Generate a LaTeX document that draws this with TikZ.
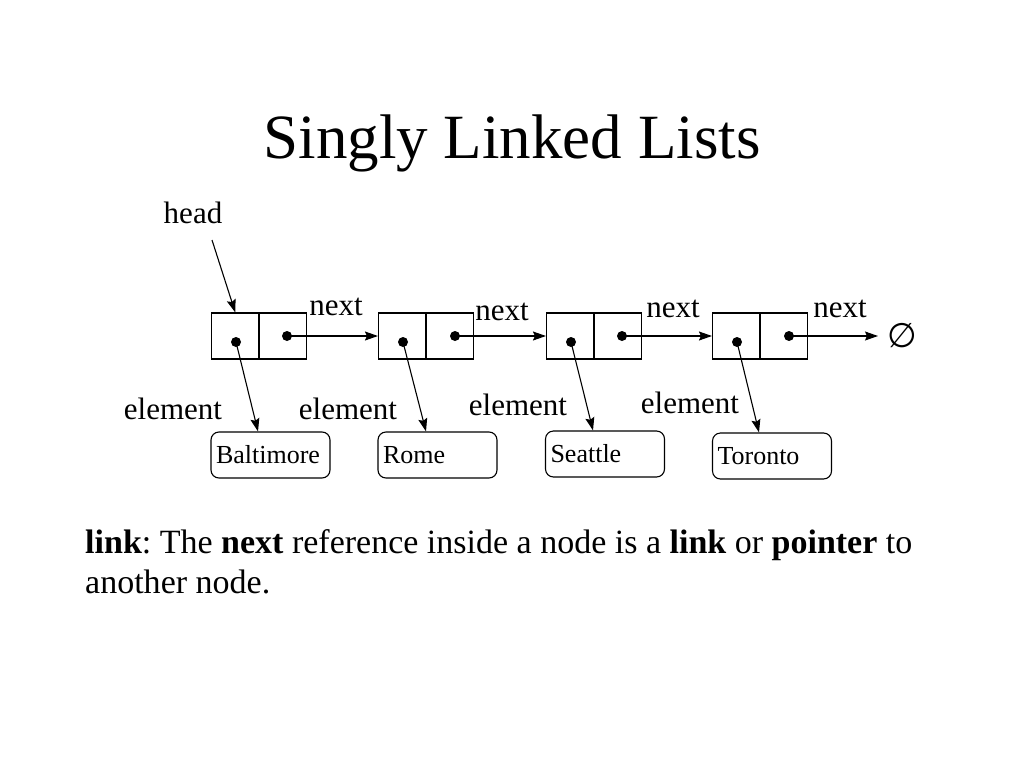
\documentclass[tikz,border=0pt]{standalone}
\usepackage{fontspec}
\setmainfont{Liberation Serif}
\newfontfamily\symfont{DejaVu Sans}
\usetikzlibrary{arrows.meta}

\begin{document}
\begin{tikzpicture}[x=1pt,y=-1pt,
    cell/.style={draw,line width=1.1pt,minimum width=47.5pt,minimum height=46pt,inner sep=0pt},
    city/.style={draw,line width=1.1pt,rounded corners=8pt,minimum height=46pt,inner xsep=5pt,
      text width=109pt,align=left,font=\fontsize{26}{30}\selectfont},
    lbl/.style={anchor=base,inner sep=0pt,font=\fontsize{31}{36}\selectfont},
    blob/.style={circle,fill,inner sep=0pt,minimum size=10pt},
    ptr/.style={line width=1.1pt,-{Stealth[length=13pt,width=9pt,inset=2pt]}}]

    \useasboundingbox (0,0) rectangle (1024,768);

    \node[anchor=base,font=\fontsize{63}{68}\selectfont] (title) at (512,158) {Singly Linked Lists};

    \node[lbl] (head) at (193,223) {head};
    \coordinate (headtail) at (212,240);

    \node[cell] (b1l) at (235.25,336) {};
    \node[cell] (b1r) at (282.75,336) {};
    \node[blob] (d1l) at (236,342) {};
    \node[blob] (d1r) at (287,336) {};
    \node[lbl] (n1) at (336,315) {next};
    \node[lbl] (e1) at (173,419) {element};
    \node[city] (balt) at (270.5,455) {Baltimore};

    \node[cell] (b2l) at (402.25,336) {};
    \node[cell] (b2r) at (449.75,336) {};
    \node[blob] (d2l) at (403,342) {};
    \node[blob] (d2r) at (455,336) {};
    \node[lbl] (n2) at (502,320) {next};
    \node[lbl] (e2) at (348,419) {element};
    \node[city] (rome) at (437.5,455) {Rome};

    \node[cell] (b3l) at (570.25,336) {};
    \node[cell] (b3r) at (617.75,336) {};
    \node[blob] (d3l) at (571,342) {};
    \node[blob] (d3r) at (622,336) {};
    \node[lbl] (n3) at (673,317) {next};
    \node[lbl] (e3) at (518,415) {element};
    \node[city] (seat) at (605,454) {Seattle};

    \node[cell] (b4l) at (736.25,336) {};
    \node[cell] (b4r) at (783.75,336) {};
    \node[blob] (d4l) at (737,342) {};
    \node[blob] (d4r) at (789,336) {};
    \node[lbl] (n4) at (840,317) {next};
    \node[lbl] (e4) at (690,413) {element};
    \node[city] (toro) at (772,456) {Toronto};

    \node[inner sep=0pt,font=\symfont\fontsize{34}{36}\selectfont] (nil) at (902,336) {∅};

    \draw[ptr] (headtail) -- (b1l.north);
    \draw[ptr] (d1r.center) -- (b2l.west);
    \draw[ptr] (d2r.center) -- (b3l.west);
    \draw[ptr] (d3r.center) -- (b4l.west);
    \draw[ptr,shorten >=9pt] (d4r.center) -- (nil.west);
    \draw[ptr] (d1l.center) -- ([xshift=-12.5pt]balt.north);
    \draw[ptr] (d2l.center) -- ([xshift=-11.5pt]rome.north);
    \draw[ptr] (d3l.center) -- ([xshift=-12pt]seat.north);
    \draw[ptr] (d4l.center) -- ([xshift=-13pt]toro.north);

    \node[anchor=base west,align=left,inner sep=0pt,font=\fontsize{34}{40}\selectfont\frenchspacing] (note) at (85,593)
      {\textbf{link}: The \textbf{next} reference inside a node is a \textbf{link} or \textbf{pointer} to\\another node.};

\end{tikzpicture}
\end{document}
